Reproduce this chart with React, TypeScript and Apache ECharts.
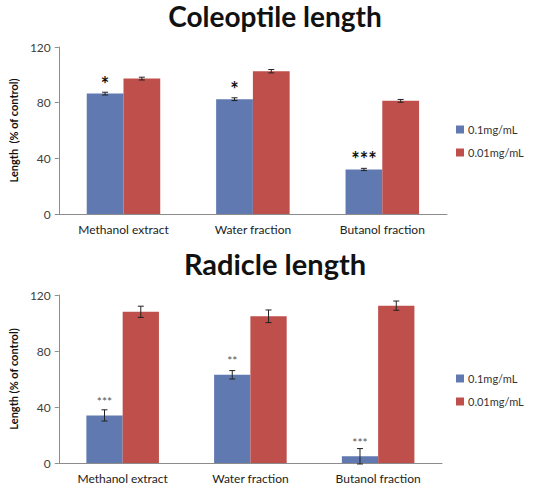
import { useEffect, useRef } from 'react';
import * as echarts from 'echarts';

const categories = ['Methanol extract', 'Water fraction', 'Butanol fraction'];
const seriesNames = ['0.1mg/mL', '0.01mg/mL'];

// Coleoptile length (% of control)
const coleLow = [86.5, 82.5, 32];
const coleLowErr = [1, 1, 0.8];
const coleHigh = [97.3, 102.6, 81.3];
const coleHighErr = [1, 1.2, 1];
const coleStars = ['*', '*', '***'];

// Radicle length (% of control)
const radLow = [34, 63, 4.8];
const radLowErr = [4, 3, 5.5];
const radHigh = [108, 104.8, 112.4];
const radHighErr = [4, 4.5, 3.3];
const radStars = ['***', '**', '***'];

const yTicks = [0, 40, 80, 120];

const BLUE = '#6079B1';
const RED = '#BE4F4B';
const FONT = 'Lato, "Open Sans", sans-serif';
const BAR_PCT = 0.284;

function errorSeries(values: number[], errs: number[], side: number, axis: number) {
  return {
    type: 'custom',
    xAxisIndex: axis,
    yAxisIndex: axis,
    silent: true,
    z: 5,
    data: values.map((v, i) => [i, v, errs[i]]),
    encode: { x: 0, y: 1 },
    renderItem: (_params: any, api: any) => {
      const cat = api.value(0);
      const val = api.value(1);
      const err = api.value(2);
      const band = api.size([1, 0])[0];
      const off = (side * band * BAR_PCT) / 2;
      const hi = api.coord([cat, val + err]);
      const lo = api.coord([cat, val - err]);
      const x = hi[0] + off;
      const cap = 3;
      const style = { stroke: '#222', lineWidth: 1 };
      return {
        type: 'group',
        children: [
          { type: 'line', shape: { x1: x, y1: hi[1], x2: x, y2: lo[1] }, style },
          { type: 'line', shape: { x1: x - cap, y1: hi[1], x2: x + cap, y2: hi[1] }, style },
          { type: 'line', shape: { x1: x - cap, y1: lo[1], x2: x + cap, y2: lo[1] }, style },
        ],
      };
    },
  };
}

function barSeries(
  name: string,
  values: number[],
  color: string,
  axis: number,
  stars?: string[],
  starStyle?: any
) {
  return {
    type: 'bar',
    name,
    xAxisIndex: axis,
    yAxisIndex: axis,
    data: values,
    barWidth: `${BAR_PCT * 100}%`,
    barGap: '0%',
    itemStyle: { color },
    label: stars
      ? {
          show: true,
          position: 'top',
          formatter: (p: any) => stars[p.dataIndex],
          ...starStyle,
        }
      : { show: false },
  };
}

export default function App() {
  const chartRef = useRef<HTMLDivElement>(null);

  useEffect(() => {
    document.body.style.margin = '0';
    if (!chartRef.current) return;
    const chart = echarts.init(chartRef.current, undefined, { renderer: 'svg' });

    const axisLine = { show: true, lineStyle: { color: '#8C8C8C' } };

    const yAxisBase = (name: string) => ({
      type: 'value',
      min: 0,
      max: 120,
      interval: 40,
      name,
      nameLocation: 'middle',
      nameGap: 28,
      nameTextStyle: { fontFamily: FONT, fontSize: 11, fontWeight: 'bold', color: '#111' },
      axisLine,
      axisTick: { show: true, length: 4, lineStyle: { color: '#8C8C8C' } },
      splitLine: { show: false },
      axisLabel: {
        fontFamily: FONT,
        fontSize: 12,
        color: '#404040',
        margin: 8,
        formatter: (v: number) => (yTicks.includes(v) ? String(v) : ''),
      },
    });

    const xAxisBase = (idx: number) => ({
      type: 'category',
      gridIndex: idx,
      data: categories,
      axisLine,
      axisTick: { show: false },
      axisLabel: { fontFamily: FONT, fontSize: 12, color: '#222', margin: 9 },
    });

    const legendBase = (top: number) => ({
      orient: 'vertical',
      left: 451,
      top,
      itemWidth: 8,
      itemHeight: 8,
      itemGap: 12,
      icon: 'rect',
      data: seriesNames,
      textStyle: { fontFamily: FONT, fontSize: 11, color: '#333', padding: [0, 0, 0, -1] },
    });

    chart.setOption({
      animation: false,
      backgroundColor: '#fff',
      title: [
        {
          text: 'Coleoptile length',
          left: 'center',
          top: -3,
          textStyle: { fontFamily: FONT, fontSize: 28, fontWeight: 'bold', color: '#111' },
        },
        {
          text: 'Radicle length',
          left: 'center',
          top: 244,
          textStyle: { fontFamily: FONT, fontSize: 29, fontWeight: 'bold', color: '#111' },
        },
      ],
      legend: [legendBase(119), legendBase(368)],
      grid: [
        { left: 46, top: 47, width: 401, height: 167 },
        { left: 46, top: 295, width: 396, height: 168 },
      ],
      xAxis: [xAxisBase(0), xAxisBase(1)],
      yAxis: [
        { ...yAxisBase('Length  (% of control)'), gridIndex: 0 },
        { ...yAxisBase('Length (% of control)'), gridIndex: 1 },
      ],
      series: [
        barSeries(seriesNames[0], coleLow, BLUE, 0, coleStars, {
          fontSize: 20,
          fontWeight: 'bold',
          color: '#111',
          distance: 0,
          fontFamily: FONT,
        }),
        barSeries(seriesNames[1], coleHigh, RED, 0),
        barSeries(seriesNames[0], radLow, BLUE, 1, radStars, {
          fontSize: 12,
          color: '#555',
          distance: 8,
          fontFamily: FONT,
        }),
        barSeries(seriesNames[1], radHigh, RED, 1),
        errorSeries(coleLow, coleLowErr, -1, 0),
        errorSeries(coleHigh, coleHighErr, 1, 0),
        errorSeries(radLow, radLowErr, -1, 1),
        errorSeries(radHigh, radHighErr, 1, 1),
      ],
    });

    return () => {
      chart.dispose();
    };
  }, []);

  return <div ref={chartRef} style={{ width: 550, height: 484 }} />;
}
